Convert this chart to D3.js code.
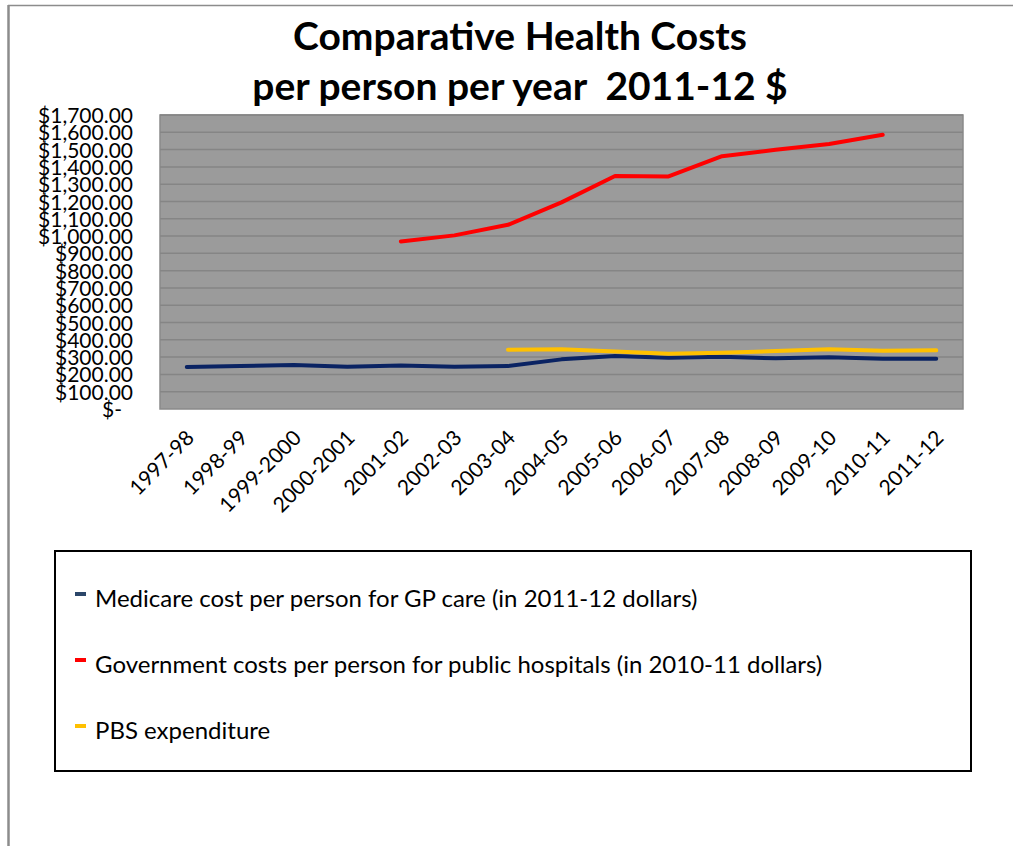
<!DOCTYPE html>
<html>
<head>
<meta charset="utf-8">
<script src="https://cdn.jsdelivr.net/npm/d3@7"></script>
<style>
  html, body { margin: 0; padding: 0; background: #ffffff; }
  svg { display: block; font-family: Lato, "Open Sans", sans-serif; }
</style>
</head>
<body>
<svg id="chart" width="1013" height="846"></svg>
<script>
// Financial years on the category axis
const categories = ["1997-98", "1998-99", "1999-2000", "2000-2001", "2001-02", "2002-03",
  "2003-04", "2004-05", "2005-06", "2006-07", "2007-08", "2008-09", "2009-10", "2010-11", "2011-12"];

// Cost per person per year, dollars (null = no figure for that year)
const medicare = [243, 248, 254, 245, 252, 245, 248, 287, 306, 297, 302, 293, 299, 291, 291];
const hospitals = [null, null, null, null, 969, 1004, 1065, 1195, 1347, 1345, 1462, 1499, 1532, 1586, null];
const pbs = [null, null, null, null, null, null, 343, 345, 333, 320, 325, 335, 345, 337, 339];

const seriesNames = [
  "Medicare cost per person for GP care (in 2011-12 dollars)",
  "Government costs per person for public hospitals (in 2010-11 dollars)",
  "PBS expenditure"
];
const yTicks = d3.range(0, 1701, 100);
const titleLines = ["Comparative Health Costs", "per person per year  2011-12 $"];

const series = [
  { name: seriesNames[0], values: medicare, color: "#0a2363", key: "#2b4669" },
  { name: seriesNames[1], values: hospitals, color: "#ff0000", key: "#ff0000" },
  { name: seriesNames[2], values: pbs, color: "#ffc000", key: "#ffc000" }
];

const svg = d3.select("#chart");

// Page frame
svg.append("line").attr("x1", 8.5).attr("x2", 8.5).attr("y1", 5).attr("y2", 846)
  .attr("stroke", "#8c8c8c").attr("stroke-width", 2.5);
svg.append("line").attr("x1", 8).attr("x2", 1013).attr("y1", 5.5).attr("y2", 5.5)
  .attr("stroke", "#8c8c8c").attr("stroke-width", 1.5);

// Title
svg.append("g").selectAll("text").data(titleLines).join("text")
  .attr("x", 520).attr("y", (d, i) => 50 + i * 50)
  .attr("text-anchor", "middle")
  .attr("font-weight", "bold").attr("font-size", 39)
  .attr("fill", "#000")
  .style("white-space", "pre")
  .text(d => d);

// Plot area
const plot = { left: 160, right: 963, top: 115, bottom: 409 };
const x = d3.scalePoint().domain(categories).range([plot.left, plot.right]).padding(0.5);
const y = d3.scaleLinear().domain([0, 1700]).range([plot.bottom, plot.top]);

svg.append("rect")
  .attr("x", plot.left).attr("y", plot.top)
  .attr("width", plot.right - plot.left).attr("height", plot.bottom - plot.top)
  .attr("fill", "#9b9b9b").attr("stroke", "#8a8a8a").attr("stroke-width", 1.5);

// Horizontal gridlines
svg.append("g").selectAll("line").data(yTicks.filter(v => v > 0)).join("line")
  .attr("x1", plot.left).attr("x2", plot.right)
  .attr("y1", d => y(d)).attr("y2", d => y(d))
  .attr("stroke", "#858585").attr("stroke-width", 1.5);

// Y axis labels
const fmt = d3.format(",.2f");
const yAxis = d3.axisLeft(y).tickValues(yTicks).tickSize(0).tickPadding(0)
  .tickFormat(d => d === 0 ? "$-" : "$" + fmt(d));
svg.append("g").attr("transform", `translate(133,0)`).call(yAxis)
  .call(g => g.select(".domain").remove())
  .call(g => g.selectAll("text")
    .attr("font-family", "Lato, sans-serif").attr("font-size", 21)
    .attr("fill", "#000").attr("dy", "0.36em")
    .attr("dx", d => d === 0 ? -11 : 0));

// X axis labels, rotated
const xAxis = d3.axisBottom(x).tickSize(0).tickPadding(0);
svg.append("g").attr("transform", `translate(0,${plot.bottom})`).call(xAxis)
  .call(g => g.select(".domain").remove())
  .call(g => g.selectAll(".tick text")
    .attr("font-family", "Lato, sans-serif").attr("font-size", 21)
    .attr("fill", "#000")
    .attr("text-anchor", "end")
    .attr("transform", "translate(3,25) rotate(-45)")
    .attr("dy", "0.35em").attr("y", 0));

// Series lines
const line = d3.line()
  .defined(d => d.v != null)
  .x(d => x(d.c))
  .y(d => y(d.v));

svg.append("g").selectAll("path").data(series).join("path")
  .attr("d", s => line(categories.map((c, i) => ({ c, v: s.values[i] }))))
  .attr("fill", "none")
  .attr("stroke", s => s.color)
  .attr("stroke-width", 4)
  .attr("stroke-linejoin", "round")
  .attr("stroke-linecap", "round");

// Legend
const legend = svg.append("g");
legend.append("rect")
  .attr("x", 55).attr("y", 551).attr("width", 916).attr("height", 220)
  .attr("fill", "#fff").attr("stroke", "#000").attr("stroke-width", 2);

const items = legend.selectAll("g.item").data(series).join("g")
  .attr("class", "item")
  .attr("transform", (d, i) => `translate(0,${i * 66})`);
items.append("rect")
  .attr("x", 75).attr("y", 592).attr("width", 11).attr("height", 4)
  .attr("fill", d => d.key);
items.append("text")
  .attr("x", 95).attr("y", 607)
  .attr("font-family", "Lato, sans-serif").attr("font-size", 24)
  .attr("fill", "#000")
  .text(d => d.name);
</script>
</body>
</html>
